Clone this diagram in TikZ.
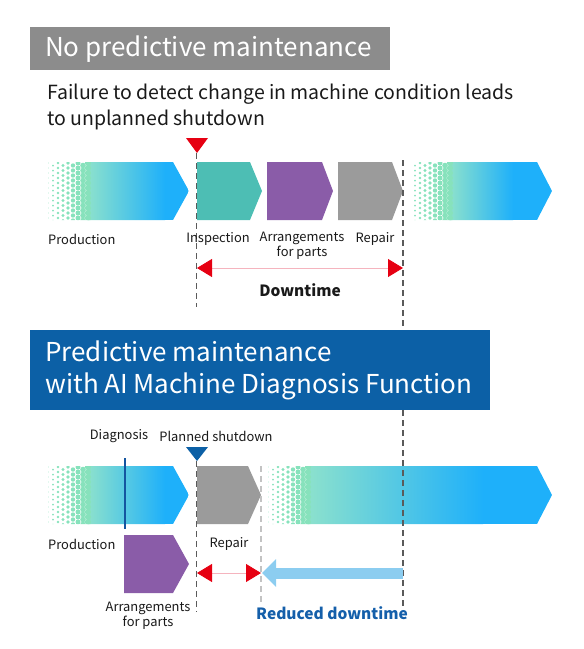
\documentclass[tikz,border=0pt]{standalone}
\usepackage{fontspec}
\setmainfont{Noto Sans CJK JP}
\usetikzlibrary{arrows.meta}
\definecolor{titlegray}{RGB}{140,140,140}
\definecolor{titleblue}{RGB}{12,96,166}
\definecolor{inspteal}{RGB}{77,190,180}
\definecolor{arrpurple}{RGB}{138,92,168}
\definecolor{repgray}{RGB}{155,155,155}
\definecolor{prodblue}{RGB}{30,176,250}
\definecolor{prodgreen}{RGB}{140,225,205}
\definecolor{dotgreen}{RGB}{135,226,188}
\definecolor{ddred}{RGB}{230,0,18}
\definecolor{pinkline}{RGB}{245,180,190}
\definecolor{lightblue}{RGB}{140,205,240}
\definecolor{diagblue}{RGB}{20,85,160}
\definecolor{dashgray}{RGB}{90,90,90}
\definecolor{dashlight}{RGB}{195,195,195}
\definecolor{redtext}{RGB}{20,95,170}
\newcommand\prodarrow[7]{%
  \begin{scope}
    \clip (#1,#6) -- (#4,#6) -- (#5,{(#6+#7)/2}) -- (#4,#7) -- (#1,#7) -- cycle;
    \fill[prodblue] ({#3-1},#6) rectangle (#5,#7);
    \shade[left color=prodgreen,right color=prodblue] (#2,#6) rectangle (#3,#7);
    \foreach \i in {0,...,8}{\foreach \j in {0,...,12}{%
      \fill[dotgreen] ({#2-40+\i*5},{#6+1+\j*5+mod(\i,2)*2.5}) circle[radius={(0.7+\i*0.3)*1pt}];}}
  \end{scope}}
\newcommand\chev[6]{\fill[#1] (#2,#5) -- (#3,#5) -- (#4,{(#5+#6)/2}) -- (#3,#6) -- (#2,#6) -- cycle;}
\begin{document}
\begin{tikzpicture}[x=1pt,y=-1pt,
  lbl/.style={font=\fontsize{12.9}{15.5}\selectfont, inner sep=0pt, text=black!90, align=center},
  dashdark/.style={draw=dashgray, line width=1.1pt, dash pattern=on 6pt off 4pt},
  dashlt/.style={draw=dashlight, line width=1.1pt, dash pattern=on 6pt off 4pt},
  downtime/.style={draw=pinkline, line width=0.8pt, {Triangle[length=15pt,width=18pt,color=ddred]}-{Triangle[length=15pt,width=18pt,color=ddred]}},
  titlebox/.style={anchor=north west, text=white, inner xsep=15pt, inner ysep=0pt, align=left, font=\fontsize{26}{32.5}\selectfont}
]
\useasboundingbox (0,0) rectangle (584,649);

% ---------- Row 1 ----------
\prodarrow{48}{88}{165}{173}{189}{162}{220}
\chev{inspteal}{197}{250}{262}{162}{220}
\chev{arrpurple}{267}{322}{333}{162}{220}
\chev{repgray}{338}{392}{403}{162}{220}
\prodarrow{411}{450}{513}{537}{552}{162}{220}

\fill[ddred] (186,138) -- (208,138) -- (197,153) -- cycle;

\draw[dashdark] (196.5,153) -- (196.5,307);
\draw[dashdark] (403,160) -- (403,608);

\node[lbl, anchor=west] (prod1) at (48,239) {Production};
\node[lbl] (insp) at (218,239) {Inspection};
\node[lbl, anchor=north] (arr1) at (302,231.5) {Arrangements\\for parts};
\node[lbl] (rep1) at (375,239) {Repair};

\coordinate (dt1L) at (197,268);
\coordinate (dt1R) at (403,268);
\draw[downtime] (dt1L) -- (dt1R);
\node[font=\fontsize{15.5}{18}\selectfont\bfseries, inner sep=0pt, text=black!90] (dtlbl) at (300,290) {Downtime};

% ---------- Row 2 ----------
\prodarrow{48}{88}{165}{173}{189}{466}{524}
\chev{repgray}{197}{248}{261}{466}{524}
\prodarrow{268}{308}{483}{537}{552}{466}{524}
\chev{arrpurple}{124}{173}{189}{535}{593}

\fill[titleblue] (186,447) -- (208,447) -- (197,461) -- cycle;
\draw[diagblue, line width=2.6pt] (125,458) -- (125,529);

\draw[dashdark] (196.5,461) -- (196.5,612);
\draw[dashlt] (261,466) -- (261,602);
\draw[dashdark] (403,460) -- (403,608);

\node[lbl] (diag) at (119,436) {Diagnosis};
\node[lbl] (plan) at (216,436) {Planned shutdown};
\node[lbl, anchor=west] (prod2) at (48,544) {Production};
\node[lbl] (rep2) at (229,544) {Repair};
\node[lbl, anchor=north] (arr2) at (148,601.5) {Arrangements\\for parts};

\coordinate (dt2L) at (197,573);
\coordinate (dt2R) at (261,573);
\draw[downtime] (dt2L) -- (dt2R);
\coordinate (rdS) at (403,573);
\coordinate (rdE) at (262,573);
\draw[lightblue, line width=11pt, -{Triangle[length=14pt,width=27pt]}] (rdS) -- (rdE);
\node[font=\fontsize{15.5}{18}\selectfont\bfseries, text=redtext, inner sep=0pt] (rdlbl) at (332,613) {Reduced downtime};

% ---------- Titles ----------
\node[titlebox, fill=titlegray, minimum height=43pt] (t1) at (30,27) {\makebox[330pt][l]{No predictive maintenance}};
\node[anchor=north west, inner sep=0pt, align=left, font=\fontsize{19.5}{25.5}\selectfont, text=black!90] (sub) at (47,84) {Failure to detect change in machine condition leads\\to unplanned shutdown};
\node[titlebox, fill=titleblue, minimum height=80pt] (t2) at (30,330) {\makebox[430pt][l]{Predictive maintenance}\\\makebox[430pt][l]{with AI Machine Diagnosis Function}};
\end{tikzpicture}
\end{document}
